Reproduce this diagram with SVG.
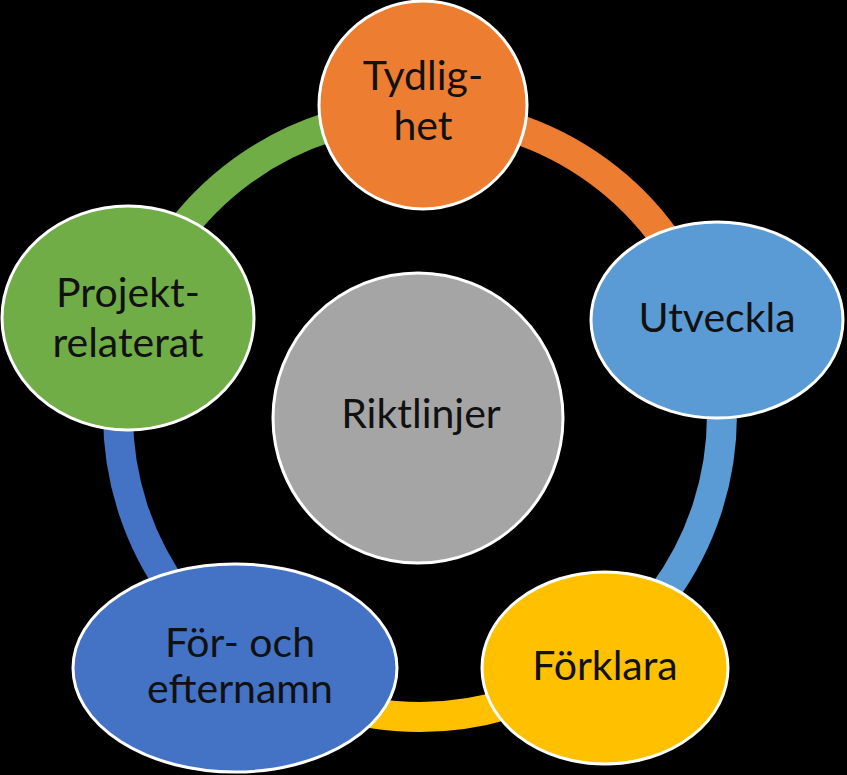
<svg xmlns="http://www.w3.org/2000/svg" width="847" height="775" viewBox="0 0 847 775">
<style>
.bg{fill:#000}
.arc{fill:none;stroke-width:30}
.node{stroke:#fff;stroke-width:3}
.lbl{font-family:Lato,"Liberation Sans",sans-serif;font-size:41px;fill:#111;text-anchor:middle}
</style>
<rect class="bg" x="0" y="0" width="847" height="775"/>
<g id="connectors">
<path class="arc" stroke="#ED7D31" d="M420,113 A302,302 0 0 1 707.2,321.7"/>
<path class="arc" stroke="#5B9BD5" d="M707.2,321.7 A302,302 0 0 1 597.5,659.3"/>
<path class="arc" stroke="#FFC000" d="M597.5,659.3 A302,302 0 0 1 242.5,659.3"/>
<path class="arc" stroke="#4472C4" d="M242.5,659.3 A302,302 0 0 1 132.8,321.7"/>
<path class="arc" stroke="#70AD47" d="M132.8,321.7 A302,302 0 0 1 420,113"/>
</g>
<g id="center">
<circle class="node" cx="418" cy="418" r="145" fill="#A5A5A5"/>
<text class="lbl" x="421" y="428">Riktlinjer</text>
</g>
<g id="tydlighet">
<circle class="node" cx="423" cy="105" r="104" fill="#ED7D31"/>
<text class="lbl" x="423" y="90">Tydlig-</text>
<text class="lbl" x="423" y="140">het</text>
</g>
<g id="utveckla">
<ellipse class="node" cx="717" cy="320" rx="126" ry="98" fill="#5B9BD5"/>
<text class="lbl" x="717" y="332">Utveckla</text>
</g>
<g id="forklara">
<ellipse class="node" cx="605" cy="668" rx="123" ry="96" fill="#FFC000"/>
<text class="lbl" x="605" y="680">Förklara</text>
</g>
<g id="fornamn">
<ellipse class="node" cx="235" cy="668" rx="162" ry="104" fill="#4472C4"/>
<text class="lbl" x="240" y="657">För- och</text>
<text class="lbl" x="240" y="703">efternamn</text>
</g>
<g id="projekt">
<ellipse class="node" cx="128" cy="318" rx="126" ry="112" fill="#70AD47"/>
<text class="lbl" x="128" y="307">Projekt-</text>
<text class="lbl" x="128" y="357">relaterat</text>
</g>
</svg>
